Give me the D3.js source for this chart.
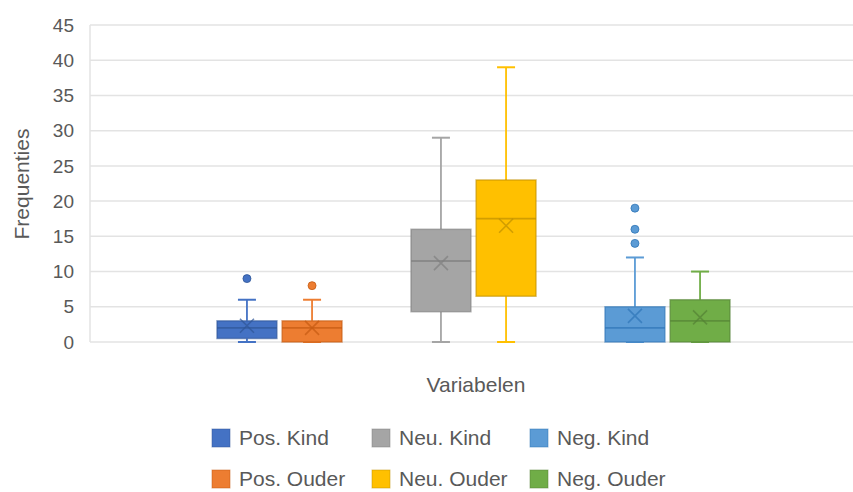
<!DOCTYPE html>
<html><head><meta charset="utf-8">
<script src="https://cdn.jsdelivr.net/npm/d3@7"></script>
<style>body{margin:0;background:#fff;}svg{display:block;font-family:"Liberation Sans",Arial,sans-serif;}</style>
</head><body><svg id="c" width="853" height="492"></svg>
<script>
const groups = ["Pos", "Neu", "Neg"];
const series = ["Pos. Kind", "Pos. Ouder", "Neu. Kind", "Neu. Ouder", "Neg. Kind", "Neg. Ouder"];
const seriesGroup = ["Pos", "Pos", "Neu", "Neu", "Neg", "Neg"];
const mins = [0, 0, 0, 0, 0, 0];
const q1s = [0.5, 0, 4.3, 6.5, 0, 0];
const medians = [2, 2, 11.5, 17.5, 2, 3];
const q3s = [3, 3, 16, 23, 5, 6];
const maxs = [6, 6, 29, 39, 12, 10];
const means = [2.3, 2.0, 11.2, 16.5, 3.7, 3.5];
const outliers = [[9], [8], [], [], [14, 16, 19], []];
const fills = ["#4472C4", "#ED7D31", "#A5A5A5", "#FFC000", "#5B9BD5", "#70AD47"];
const strokes = ["#2F5597", "#C55A11", "#7F7F7F", "#BF9000", "#2E75B6", "#548235"];
const yTicks = [0, 5, 10, 15, 20, 25, 30, 35, 40, 45];

const svg = d3.select("#c");
const y = d3.scaleLinear().domain([0, 45]).range([342, 25]);
const xg = d3.scaleBand().domain(groups).range([182, 764]);
const xi = d3.scaleBand().domain([0, 1]).range([35, 160]).paddingInner(0.08);

// gridlines
svg.append("g").selectAll("line").data(yTicks).join("line")
  .attr("x1", 90).attr("x2", 853)
  .attr("y1", d => y(d)).attr("y2", d => y(d))
  .attr("stroke", "#e3e3e3").attr("stroke-width", 1.5);
svg.append("line").attr("x1", 90).attr("x2", 90).attr("y1", y(45)).attr("y2", y(0))
  .attr("stroke", "#e3e3e3").attr("stroke-width", 1.5);

// y labels
svg.append("g").selectAll("text").data(yTicks).join("text")
  .attr("x", 74).attr("y", d => y(d)).attr("dy", "0.35em")
  .attr("text-anchor", "end").attr("font-size", 19).attr("fill", "#595959")
  .text(d => d);

svg.append("text").attr("transform", "translate(22,184) rotate(-90)").attr("dy", "0.35em")
  .attr("text-anchor", "middle").attr("font-size", 21).attr("fill", "#595959").text("Frequenties");
svg.append("text").attr("x", 476).attr("y", 385).attr("dy", "0.35em")
  .attr("text-anchor", "middle").attr("font-size", 21).attr("fill", "#595959").text("Variabelen");

// boxes
series.forEach((s, i) => {
  const g = seriesGroup[i];
  const idx = series.filter((_, j) => seriesGroup[j] === g).indexOf(s);
  const x0 = xg(g) + xi(idx);
  const w = xi.bandwidth();
  const cx = x0 + w / 2;
  const G = svg.append("g");
  const cap = 18;
  G.append("line").attr("x1", cx).attr("x2", cx).attr("y1", y(q3s[i])).attr("y2", y(maxs[i]))
    .attr("stroke", fills[i]).attr("stroke-width", 1.8);
  G.append("line").attr("x1", cx - cap / 2).attr("x2", cx + cap / 2).attr("y1", y(maxs[i])).attr("y2", y(maxs[i]))
    .attr("stroke", fills[i]).attr("stroke-width", 2);
  G.append("line").attr("x1", cx).attr("x2", cx).attr("y1", y(q1s[i])).attr("y2", y(mins[i]))
    .attr("stroke", fills[i]).attr("stroke-width", 1.8);
  G.append("line").attr("x1", cx - cap / 2).attr("x2", cx + cap / 2).attr("y1", y(mins[i])).attr("y2", y(mins[i]))
    .attr("stroke", fills[i]).attr("stroke-width", 2);
  G.append("rect").attr("x", x0).attr("y", y(q3s[i])).attr("width", w)
    .attr("height", y(q1s[i]) - y(q3s[i]))
    .attr("fill", fills[i]).attr("stroke", strokes[i]).attr("stroke-width", 1.5).attr("stroke-opacity", 0.6);
  G.append("line").attr("x1", x0).attr("x2", x0 + w).attr("y1", y(medians[i])).attr("y2", y(medians[i]))
    .attr("stroke", strokes[i]).attr("stroke-width", 1.8).attr("stroke-opacity", 0.7);
  const m = 7, my = y(means[i]);
  G.append("path").attr("d", `M${cx - m},${my - m}L${cx + m},${my + m}M${cx - m},${my + m}L${cx + m},${my - m}`)
    .attr("stroke", strokes[i]).attr("stroke-width", 1.6).attr("stroke-opacity", 0.7).attr("fill", "none");
  G.selectAll("circle").data(outliers[i]).join("circle")
    .attr("cx", cx).attr("cy", d => y(d)).attr("r", 4)
    .attr("fill", fills[i]).attr("stroke", strokes[i]).attr("stroke-width", 0.8);
});

// legend
const legX = [212, 372, 530];
const legY = [438, 479];
series.forEach((s, i) => {
  const col = Math.floor(i / 2), row = i % 2;
  const lx = legX[col], ly = legY[row];
  svg.append("rect").attr("x", lx).attr("y", ly - 9).attr("width", 18).attr("height", 18)
    .attr("fill", fills[i]).attr("stroke", strokes[i]).attr("stroke-opacity", 0.5);
  svg.append("text").attr("x", lx + 27).attr("y", ly).attr("dy", "0.35em")
    .attr("font-size", 21).attr("fill", "#595959").text(s);
});
</script></body></html>
